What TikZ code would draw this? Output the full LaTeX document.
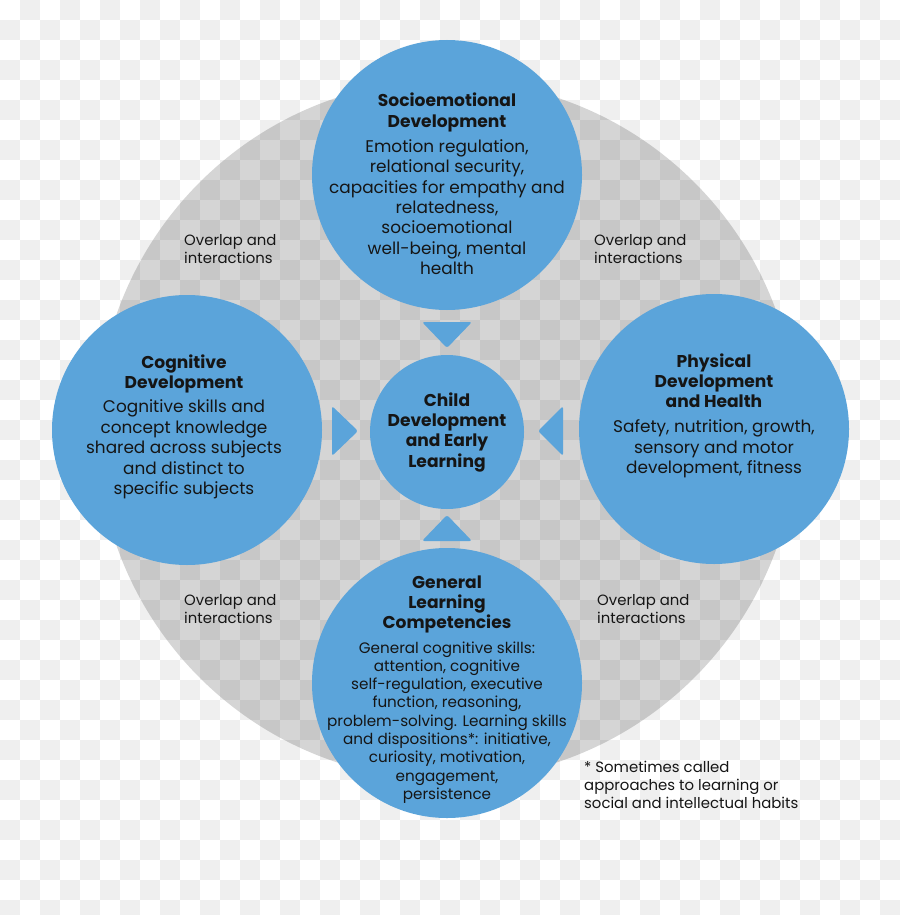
\documentclass[tikz,border=0pt]{standalone}
\usepackage{fontspec}
\setmainfont{Poppins}
\definecolor{bubblue}{HTML}{5BA4DA}
\definecolor{chkgray}{HTML}{EFEFEF}
\definecolor{inkc}{HTML}{151515}
\newcommand{\bodyf}{\fontsize{16.9}{20.4}\selectfont}
\newcommand{\titlef}{\fontsize{17.1}{20.4}\selectfont}
\newcommand{\smallf}{\fontsize{15.2}{18.3}\selectfont}
\newcommand{\notef}{\fontsize{14.9}{18}\selectfont}
\tikzset{
  bubble/.style={circle, fill=bubblue, inner sep=0pt, minimum size=270pt},
  txt/.style={inner sep=0pt, text=inkc, anchor=base},
  note/.style={inner sep=0pt, text=inkc, anchor=base west},
  pointer/.style={fill=bubblue, rounded corners=2.5pt},
}
\begin{document}
\begin{tikzpicture}[x=1pt,y=-1pt]
\useasboundingbox (0,0) rectangle (900,915);
\fill[white] (0,0) rectangle (900,915);
\foreach \i in {0,...,44}{\foreach \j in {0,...,45}{%
  \ifodd\numexpr\i+\j\relax \fill[chkgray] (\i*20,\j*20) rectangle ++(20,20);\fi}}
% gray translucent disc
\fill[black, opacity=0.165] (447,430) circle (350);
% bubbles
\node[bubble] (soc) at (447,175) {};
\node[bubble] (cog) at (187,430) {};
\node[bubble] (phy) at (714,429) {};
\node[bubble] (gen) at (447,683) {};
\node[bubble, minimum size=154pt] (ctr) at (447,432) {};
% pointers
\coordinate (pt) at (447,348);
\coordinate (pb) at (447,515);
\coordinate (pl) at (358,431);
\coordinate (pr) at (538,431);
\fill[pointer] (422,322) -- (472,322) -- (pt) -- cycle;
\fill[pointer] (422,541) -- (472,541) -- (pb) -- cycle;
\fill[pointer] (332,406) -- (332,456) -- (pl) -- cycle;
\fill[pointer] (563,406) -- (563,456) -- (pr) -- cycle;
% texts
\node[txt] (soctxt) at (447,107) {\bodyf\begin{tabular}[t]{@{}c@{}}
\titlef\textbf{Socioemotional}\\ \titlef\textbf{Development}\\[4.6pt]
Emotion regulation,\\ relational security,\\ capacities for empathy and\\ relatedness,\\ socioemotional\\ well-being, mental\\ health\end{tabular}};
\node[txt] (cogtxt) at (184,368) {\bodyf\begin{tabular}[t]{@{}c@{}}
\titlef\textbf{Cognitive}\\ \titlef\textbf{Development}\\[4pt]
Cognitive skills and\\ concept knowledge\\ shared across subjects\\ and distinct to\\ specific subjects\end{tabular}};
\node[txt] (phytxt) at (714,367) {\bodyf\begin{tabular}[t]{@{}c@{}}
\titlef\textbf{Physical}\\ \titlef\textbf{Development}\\ \titlef\textbf{and Health}\\[4.6pt]
Safety, nutrition, growth,\\ sensory and motor\\ development, fitness\end{tabular}};
\node[txt] (ctrtxt) at (447,406) {\titlef\begin{tabular}[t]{@{}c@{}}
\textbf{Child}\\ \textbf{Development}\\ \textbf{and Early}\\ \textbf{Learning}\end{tabular}};
\node[txt] (gentitle) at (447,588) {\titlef\begin{tabular}[t]{@{}c@{}}
\textbf{General}\\ \textbf{Learning}\\ \textbf{Competencies}\end{tabular}};
\node[txt] (genbody) at (447,653) {\smallf\begin{tabular}[t]{@{}c@{}}
General cognitive skills:\\ attention, cognitive\\ self-regulation, executive\\ function, reasoning,\\ problem-solving. Learning skills\\ and dispositions*: initiative,\\ curiosity, motivation,\\ engagement,\\ persistence\end{tabular}};
\node[note] (ov1) at (184,245) {\notef\begin{tabular}[t]{@{}l@{}}Overlap and\\ interactions\end{tabular}};
\node[note] (ov2) at (594,245) {\notef\begin{tabular}[t]{@{}l@{}}Overlap and\\ interactions\end{tabular}};
\node[note] (ov3) at (184,605) {\notef\begin{tabular}[t]{@{}l@{}}Overlap and\\ interactions\end{tabular}};
\node[note] (ov4) at (597,605) {\notef\begin{tabular}[t]{@{}l@{}}Overlap and\\ interactions\end{tabular}};
\node[note] (fn) at (584,772) {\notef\begin{tabular}[t]{@{}l@{}}* Sometimes called\\ approaches to learning or\\ social and intellectual habits\end{tabular}};
\end{tikzpicture}
\end{document}
